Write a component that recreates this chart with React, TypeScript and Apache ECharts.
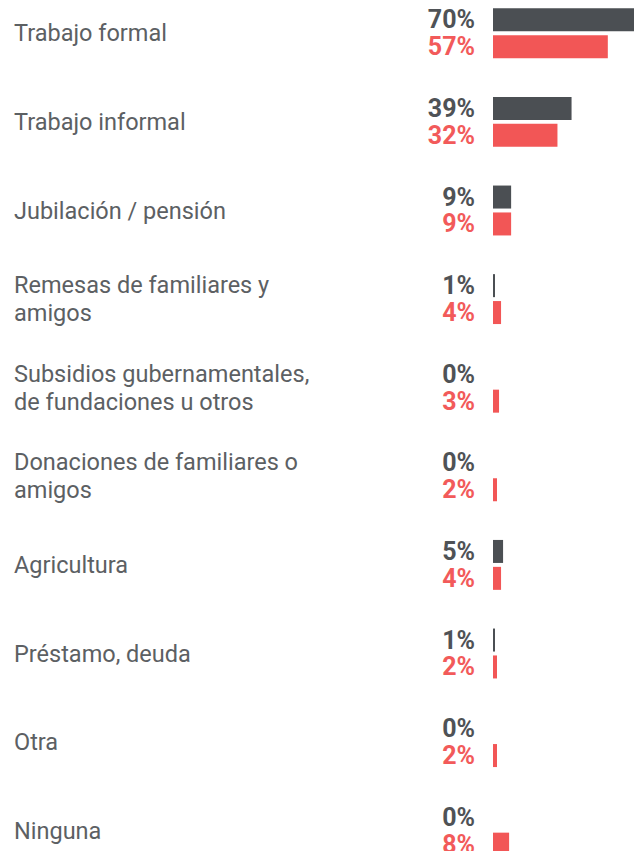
import React, { useEffect, useRef } from "react";
import * as echarts from "echarts";

const categories = [
  "Trabajo formal",
  "Trabajo informal",
  "Jubilación / pensión",
  "Remesas de familiares y\namigos",
  "Subsidios gubernamentales,\nde fundaciones u otros",
  "Donaciones de familiares o\namigos",
  "Agricultura",
  "Préstamo, deuda",
  "Otra",
  "Ninguna",
];
const seriesGray = [70, 39, 9, 1, 0, 0, 5, 1, 0, 0];
const seriesRed = [57, 32, 9, 4, 3, 2, 4, 2, 2, 8];

const GRAY = "#4b4f53";
const RED = "#f25656";

export default function App() {
  const ref = useRef<HTMLDivElement>(null);
  useEffect(() => {
    const chart = echarts.init(ref.current!, null, { renderer: "svg" });
    const labelCommon = {
      show: true,
      position: "left" as const,
      distance: 18,
      fontFamily: "Roboto",
      fontWeight: "bold" as const,
      fontSize: 25,
      formatter: "{c}%",
    };
    chart.setOption({
      animation: false,
      grid: { left: 493, right: 10, top: 0, height: 886, containLabel: false },
      xAxis: {
        type: "value",
        min: 0,
        max: 70,
        show: false,
      },
      yAxis: {
        type: "category",
        data: categories,
        inverse: true,
        axisLine: { show: false },
        axisTick: { show: false },
        splitLine: { show: false },
        axisLabel: {
          align: "left",
          margin: 479,
          color: "#5c6063",
          fontFamily: "Roboto",
          fontSize: 23.5,
          lineHeight: 28,
          padding: [0, 0, 8, 0],
        },
      },
      series: [
        {
          type: "bar",
          data: seriesGray,
          barWidth: 23,
          barGap: "17%",
          itemStyle: { color: GRAY },
          label: { ...labelCommon, color: "#4f5256" },
        },
        {
          type: "bar",
          data: seriesRed,
          barWidth: 23,
          barGap: "17%",
          itemStyle: { color: RED },
          label: { ...labelCommon, color: "#f25a5a" },
        },
      ],
    });
    return () => chart.dispose();
  }, []);
  return (
    <div style={{ width: 644, height: 859, margin: -8, overflow: "hidden", position: "relative" }}>
      <div ref={ref} style={{ width: 644, height: 900, position: "absolute", left: 0, top: -11.5 }} />
    </div>
  );
}
